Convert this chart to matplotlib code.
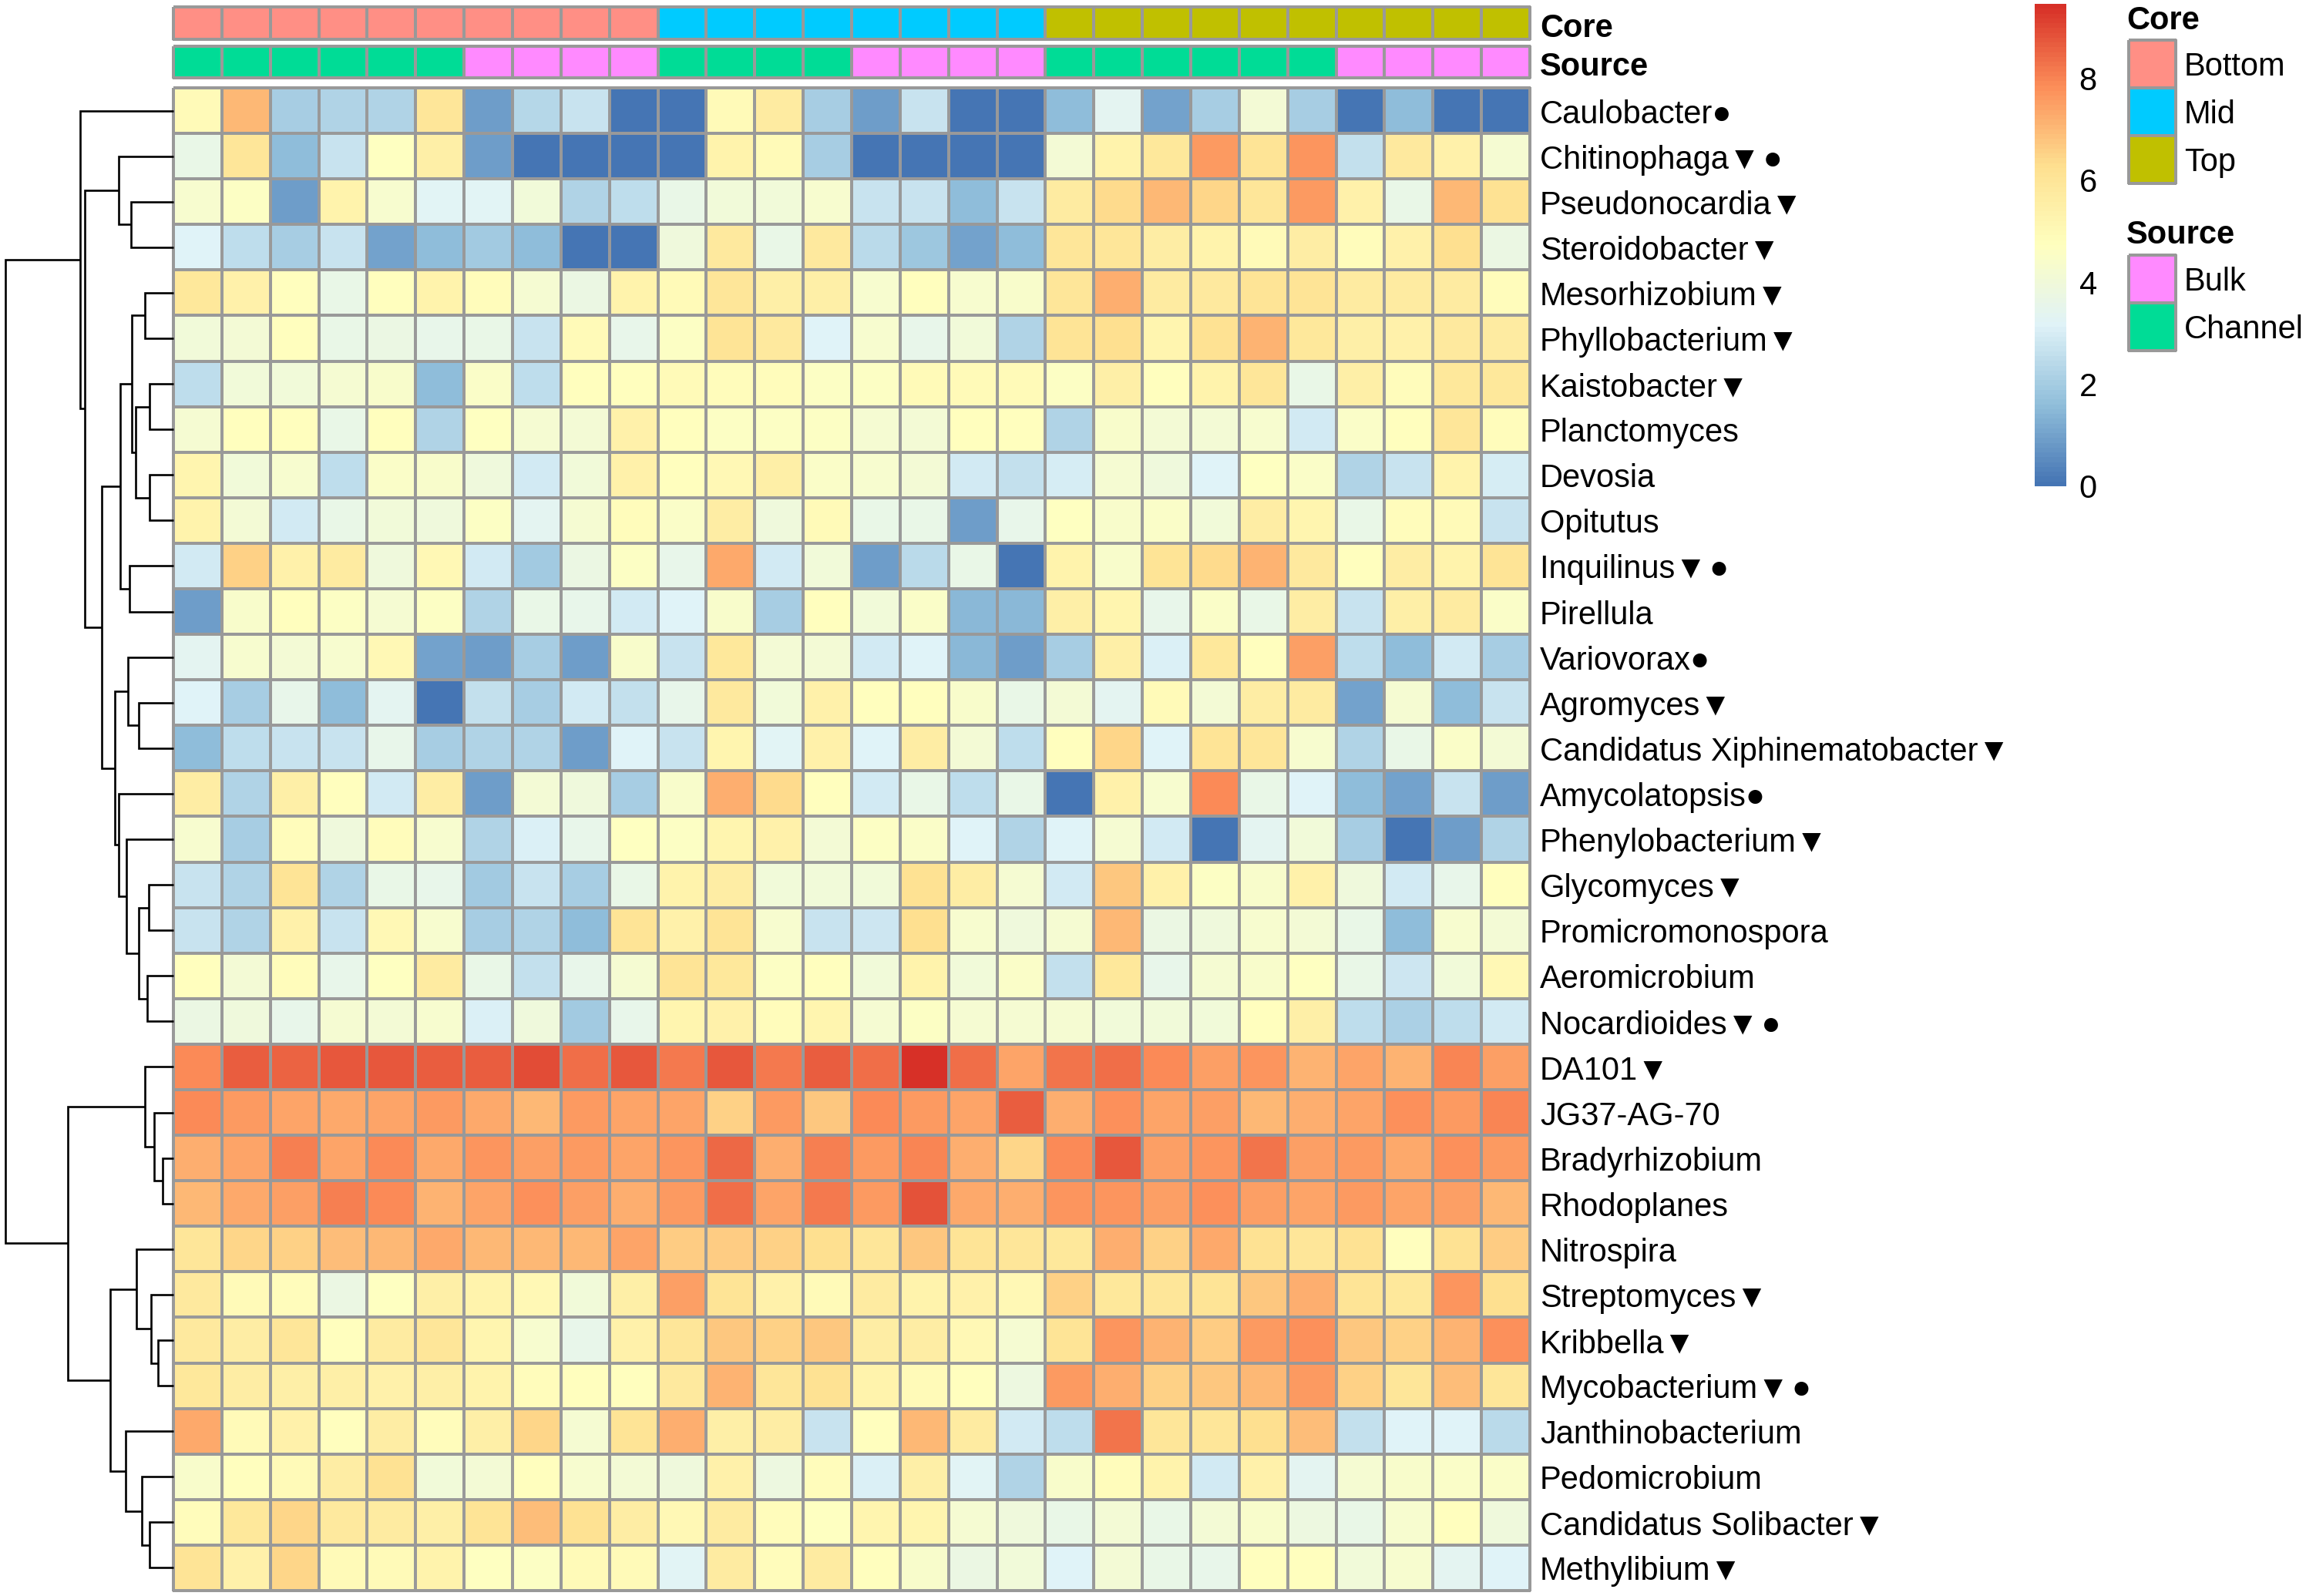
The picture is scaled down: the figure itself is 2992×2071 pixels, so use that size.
import numpy as np
import matplotlib
matplotlib.use("Agg")
import matplotlib.pyplot as plt
from matplotlib.colors import LinearSegmentedColormap, ListedColormap

W, H = 2992, 2071
FAM = ['Liberation Sans', 'DejaVu Sans']
plt.rcParams['font.family'] = FAM

taxa = ["Caulobacter●", "Chitinophaga▼\u200a●", "Pseudonocardia▼", "Steroidobacter▼", "Mesorhizobium▼",
        "Phyllobacterium▼", "Kaistobacter▼", "Planctomyces", "Devosia", "Opitutus", "Inquilinus▼\u200a●",
        "Pirellula", "Variovorax●", "Agromyces▼", "Candidatus Xiphinematobacter▼", "Amycolatopsis●",
        "Phenylobacterium▼", "Glycomyces▼", "Promicromonospora", "Aeromicrobium", "Nocardioides▼\u200a●",
        "DA101▼", "JG37-AG-70", "Bradyrhizobium", "Rhodoplanes", "Nitrospira", "Streptomyces▼",
        "Kribbella▼", "Mycobacterium▼\u200a●", "Janthinobacterium", "Pedomicrobium",
        "Candidatus Solibacter▼", "Methylibium▼"]

core = ["Bottom"]*10 + ["Mid"]*8 + ["Top"]*10
source = (["Channel"]*6 + ["Bulk"]*4 + ["Channel"]*4 + ["Bulk"]*4 + ["Channel"]*6 + ["Bulk"]*4)
core_levels = ["Bottom", "Mid", "Top"]
core_colors = ["#FF8F85", "#00CBFF", "#C0C000"]
source_levels = ["Bulk", "Channel"]
source_colors = ["#FF8AFF", "#00DC96"]

abundance = [
 [5.0,7.0,2.0,2.2,2.2,6.0,0.9,2.3,2.7,0,0,5.0,5.7,2.0,0.9,2.7,0,0, 1.6,3.4,1.0,2.0,4.1,2.0,0,1.6,0,0],
 [3.6,6.0,1.6,2.7,4.7,5.5,0.9,0,0,0,0,5.3,5.0,2.0,0,0,0,0, 4.1,5.3,5.9,7.6,6.1,7.7,2.6,5.8,5.4,4.2],
 [4.3,4.6,0.9,5.3,4.3,3.3,3.3,4.0,2.2,2.5,3.6,4.0,4.0,4.3,2.7,2.7,1.6,2.7, 5.7,6.4,7.0,6.5,6.0,7.6,5.4,3.6,7.0,6.2],
 [3.2,2.5,2.0,2.7,1.0,1.6,1.9,1.6,0,0,3.9,5.8,3.6,5.8,2.4,1.8,1.0,1.6, 6.0,6.0,5.6,5.3,5.0,5.6,4.9,5.4,6.3,3.7],
 [5.9,5.4,4.8,3.6,4.8,5.3,4.9,4.2,3.7,5.3,5.0,6.0,5.5,5.5,4.3,4.8,4.3,4.4, 6.0,7.2,5.7,5.8,6.1,6.1,5.7,5.7,5.7,4.9],
 [4.0,4.1,4.8,3.6,3.7,3.5,3.6,2.7,5.0,3.5,4.6,6.1,5.8,3.2,4.3,3.5,4.0,2.2, 6.1,6.3,5.2,6.2,7.1,5.9,5.5,5.4,5.8,5.7],
 [2.5,4.0,4.0,4.2,4.4,1.6,4.5,2.5,4.8,4.8,5.0,4.9,4.9,4.6,4.6,5.0,5.0,5.0, 4.6,5.5,4.8,5.3,6.0,3.6,5.5,4.9,5.9,5.9],
 [4.2,4.8,4.8,3.6,4.8,2.2,4.7,4.2,4.1,5.4,4.8,4.6,4.6,4.6,4.2,4.1,4.8,4.8, 2.2,4.4,4.1,4.1,4.3,2.9,4.5,4.8,6.0,4.9],
 [5.2,4.0,4.3,2.5,4.5,4.4,3.9,2.9,4.0,5.4,4.8,5.1,5.5,4.5,4.3,4.1,2.9,2.6, 3.0,4.2,3.9,3.2,4.7,4.5,2.2,2.7,5.3,3.0],
 [5.3,4.1,2.9,3.6,4.0,3.9,4.6,3.4,4.2,4.9,4.5,5.6,3.9,5.0,3.6,3.6,0.9,3.5, 4.7,4.4,4.5,4.0,5.6,5.2,3.6,4.9,5.0,2.7],
 [2.9,6.6,5.4,5.7,3.9,5.1,2.9,1.9,3.7,4.6,3.5,7.3,2.9,4.0,0.9,2.4,3.6,0, 5.3,4.4,6.1,6.4,7.1,5.8,4.8,5.6,5.3,6.1],
 [0.9,4.4,4.8,4.6,4.2,4.6,2.2,3.6,3.5,2.9,3.2,4.4,2.0,4.8,4.0,4.5,1.5,1.5, 5.5,5.2,3.5,4.5,3.6,5.6,2.7,5.5,5.7,4.5],
 [3.4,4.3,4.1,4.3,5.1,1.0,0.9,2.0,0.9,4.4,2.7,5.9,4.1,4.1,2.9,3.2,1.5,0.9, 2.0,5.5,3.1,5.9,4.8,7.5,2.5,1.6,2.9,2.0],
 [3.2,2.0,3.5,1.6,3.4,0,2.6,2.0,2.9,2.6,3.5,5.8,4.0,5.4,4.8,4.8,4.4,3.6, 4.1,3.4,5.0,4.1,5.6,5.7,1.0,4.2,1.6,2.7],
 [1.6,2.5,2.7,2.7,3.5,2.0,2.2,2.2,0.9,3.2,2.7,5.2,3.3,5.4,3.2,5.6,4.1,2.5, 4.8,6.5,3.2,6.1,6.0,4.3,2.2,3.6,4.5,4.1],
 [5.6,2.2,5.5,4.8,2.9,5.6,0.9,4.1,3.9,2.0,4.4,7.2,6.4,4.8,2.9,3.6,2.5,3.6, 0,5.4,4.3,7.9,3.6,3.2,1.6,1.0,2.7,0.9],
 [4.3,2.0,4.9,3.9,4.9,4.3,2.2,3.1,3.5,4.7,4.6,5.2,5.4,4.1,4.6,4.5,3.2,2.2, 3.2,4.2,2.9,0,3.4,4.0,2.0,0,0.9,2.2],
 [2.7,2.2,6.1,2.2,3.6,3.5,1.9,2.7,2.0,3.6,5.3,5.6,4.0,4.0,4.0,6.2,5.6,4.2, 2.9,6.8,5.4,4.6,4.4,5.4,3.9,2.9,3.5,4.8],
 [2.7,2.2,5.4,2.7,5.1,4.3,2.0,2.2,1.6,6.1,5.4,6.1,4.3,2.7,2.8,6.3,4.3,3.9, 4.2,7.0,3.7,3.9,4.3,4.1,3.6,1.6,4.3,4.1],
 [4.8,4.1,4.9,3.5,4.7,5.7,3.6,2.6,3.5,4.2,6.1,5.9,4.6,4.8,4.0,5.3,4.0,4.5, 2.6,5.9,3.5,4.2,4.4,4.7,3.6,2.8,4.0,5.1],
 [3.7,3.9,3.5,4.2,4.1,4.3,3.1,3.9,1.9,3.5,5.2,5.4,4.9,5.2,4.2,4.6,4.2,4.2, 4.2,4.0,4.0,4.0,4.8,5.5,2.5,2.1,2.5,2.9],
 [7.9,8.65,8.55,8.7,8.7,8.65,8.65,8.95,8.4,8.7,8.2,8.7,8.2,8.65,8.4,9.45,8.4,7.4, 8.3,8.4,7.9,7.5,7.7,7.1,7.4,7.1,8.0,7.5],
 [7.9,7.6,7.4,7.3,7.4,7.6,7.3,7.0,7.6,7.4,7.4,6.6,7.6,6.8,7.9,7.6,7.4,8.6, 7.2,7.8,7.4,7.5,7.0,7.2,7.4,7.8,7.6,8.0],
 [7.2,7.4,8.1,7.4,7.9,7.3,7.7,7.5,7.6,7.4,7.7,8.5,7.2,8.1,7.6,8.0,7.2,6.5, 7.9,8.7,7.5,7.7,8.3,7.5,7.6,7.3,7.8,7.6],
 [7.0,7.3,7.5,8.1,7.9,7.1,7.4,7.8,7.5,7.2,7.6,8.4,7.4,8.2,7.6,8.85,7.3,7.2, 7.7,7.7,7.5,7.8,7.5,7.4,7.6,7.4,7.5,7.0],
 [6.0,6.5,6.6,6.9,7.0,7.3,7.0,7.0,7.0,7.4,6.7,6.7,6.6,6.3,6.0,6.8,6.1,6.0, 5.9,7.2,6.6,7.3,6.2,6.0,6.2,4.8,6.2,6.7],
 [5.8,5.0,4.9,3.7,4.7,5.5,5.3,5.1,4.0,5.5,7.5,6.1,5.4,5.0,5.7,5.3,5.4,5.1, 6.6,5.9,6.0,6.1,6.8,7.2,6.1,5.9,7.7,6.3],
 [5.8,5.6,6.0,4.8,5.7,6.0,5.2,4.3,3.5,5.4,6.0,6.8,6.6,6.8,5.6,5.6,5.1,4.2, 6.1,7.7,7.1,6.7,7.6,7.8,6.8,6.6,7.1,7.8],
 [5.9,5.6,5.5,5.5,5.4,5.5,5.3,4.9,4.8,4.8,5.8,7.1,6.0,6.2,5.3,5.0,4.8,3.8, 7.6,7.2,6.6,6.8,7.0,7.6,6.6,6.0,6.9,6.0],
 [7.3,5.0,5.4,4.8,5.6,4.9,5.5,6.5,4.2,6.1,7.2,5.5,5.6,2.7,4.8,7.0,5.7,2.9, 2.5,8.3,6.0,6.0,6.3,6.9,2.6,3.2,3.2,2.4],
 [4.4,4.8,5.0,5.6,6.2,4.0,4.1,4.8,4.3,4.1,3.9,5.4,3.8,4.9,3.1,5.5,3.3,2.2, 4.4,4.9,5.3,2.9,5.4,3.4,4.2,4.4,4.5,4.5],
 [4.9,5.9,6.5,5.8,5.7,5.5,6.1,6.9,6.2,5.6,5.1,5.7,4.9,4.7,5.2,5.2,4.2,3.9, 3.6,4.1,3.6,4.1,4.4,3.8,3.6,4.3,4.8,3.9],
 [6.1,5.4,6.5,5.0,5.0,5.3,4.7,4.6,5.0,5.0,3.3,5.7,4.9,5.7,4.8,4.4,3.7,4.0, 3.2,4.1,3.6,3.5,4.8,4.8,4.0,4.3,3.4,3.2],
]

# row dendrogram: nodes 0-32 are rows, node 33+k is merge k
merge_left = [2,1,4,6,8,36,35,10,39,13,12,17,19,44,16,15,43,41,34,0,23,22,21,27,26,25,31,30,29,58,55,52]
merge_right = [3,33,5,7,9,37,38,11,40,14,42,18,20,45,46,47,48,49,50,51,24,53,54,28,56,57,32,59,60,61,62,63]
merge_height = [55,71.4,37.5,31,31,49,53.6,57,69,45.5,59,32,34,45.5,61,71.4,76,93,115,121.4,
                14.3,25,37.5,20.5,29.5,48,31.3,41,62.5,82,137,218]

VMIN, VMAX = 0.0, 9.45
cmap = LinearSegmentedColormap.from_list(
    "rdylbu", ["#4575B4", "#91BFDB", "#E0F3F8", "#FFFFBF", "#FEE090", "#FC8D59", "#D73027"], N=100)
GRID = "#999999"
LW = 1.7
FS = 30


def add_axes(fig, x0, y0, x1, y1):
    ax = fig.add_axes([x0 / W, 1 - y1 / H, (x1 - x0) / W, (y1 - y0) / H])
    ax.axis("off")
    return ax


fig = plt.figure(figsize=(W / 100, H / 100), dpi=100, facecolor="white")

HL, HR, HT, HB = 225, 1985, 114, 2064
data = np.array(abundance)
nrow, ncol = data.shape

# heatmap
ax = add_axes(fig, HL, HT, HR, HB)
ax.pcolormesh(data, cmap=cmap, vmin=VMIN, vmax=VMAX, edgecolors=GRID, linewidth=LW, clip_on=False)
ax.set_xlim(0, ncol)
ax.set_ylim(nrow, 0)
for i, name in enumerate(taxa):
    ax.annotate(name, xy=(1, 1 - (i + 0.5) / nrow), xycoords="axes fraction", xytext=(1998, -5),
                textcoords=("figure pixels", "offset pixels"), va="center", ha="left",
                fontsize=FS, family=FAM, color="black")

# annotation strips
for labels, levels, colors, (y0, y1), title in [
        (core, core_levels, core_colors, (9, 51), "Core"),
        (source, source_levels, source_colors, (60, 101), "Source")]:
    a = add_axes(fig, HL, y0, HR, y1)
    idx = np.array([[levels.index(v) for v in labels]])
    a.pcolormesh(idx, cmap=ListedColormap(colors), vmin=-0.5, vmax=len(levels) - 0.5,
                 edgecolors=GRID, linewidth=LW, clip_on=False)
    a.set_xlim(0, ncol)
    a.set_ylim(1, 0)
    fig.text(1998 / W, 1 - ((y0 + y1) / 2 + 7) / H, title, fontsize=FS, fontweight="bold",
             va="center", ha="left", color="black")

# dendrogram
d = add_axes(fig, 0, HT, HL, HB)
d.set_xlim(HL, 0)
d.set_ylim(nrow, 0)
node_y = {i: i + 0.5 for i in range(nrow)}
node_h = {i: 0.0 for i in range(nrow)}
for k, (l, r, h) in enumerate(zip(merge_left, merge_right, merge_height)):
    d.plot([node_h[l], h, h, node_h[r]], [node_y[l], node_y[l], node_y[r], node_y[r]],
           color="black", lw=1.9, solid_joinstyle="miter", solid_capstyle="butt", clip_on=False)
    node_y[nrow + k] = (node_y[l] + node_y[r]) / 2
    node_h[nrow + k] = h

# colour bar
c = fig.add_axes([2640 / W, 1 - 631 / H, 41 / W, 626 / H])
grad = np.linspace(VMIN, VMAX, 100).reshape(-1, 1)
c.imshow(grad, cmap=cmap, vmin=VMIN, vmax=VMAX, origin="lower", aspect="auto",
         extent=[0, 1, VMIN, VMAX], interpolation="nearest")
c.set_xticks([])
c.set_yticks([0, 2, 4, 6, 8])
c.yaxis.tick_right()
c.tick_params(axis="y", length=0, pad=12, labelsize=FS)
for s in c.spines.values():
    s.set_visible(False)


# legends
def legend(title, levels, colors, title_y, top):
    step = 62
    fig.text(2759 / W, 1 - (title_y + 4) / H, title, fontsize=FS, fontweight="bold", va="center", ha="left")
    a = add_axes(fig, 2762, top, 2823, top + step * len(levels))
    a.pcolormesh(np.arange(len(levels)).reshape(-1, 1), cmap=ListedColormap(colors),
                 vmin=-0.5, vmax=len(levels) - 0.5, edgecolors=GRID, linewidth=LW, clip_on=False)
    a.set_ylim(len(levels), 0)
    for i, lev in enumerate(levels):
        fig.text(2834 / W, 1 - (top + step * (i + 0.5) + 4) / H, lev, fontsize=FS, va="center", ha="left")


legend("Core", core_levels, core_colors, 23, 52)
legend("Source", source_levels, source_colors, 301, 331)

fig.savefig("out.png", dpi=100, facecolor="white")
